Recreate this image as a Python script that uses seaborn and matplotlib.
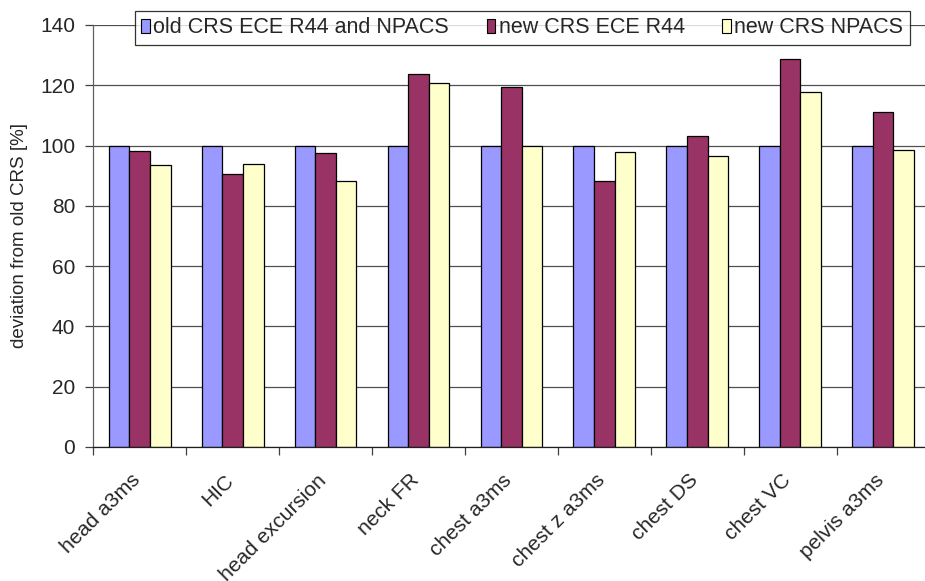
import matplotlib
matplotlib.use("Agg")
import matplotlib.pyplot as plt
import matplotlib.transforms as mtransforms
import seaborn as sns
import pandas as pd
import numpy as np
from matplotlib.ticker import FixedLocator

categories = ["head a3ms", "HIC", "head excursion", "neck FR", "chest a3ms",
              "chest z a3ms", "chest DS", "chest VC", "pelvis a3ms"]
series_names = ["old CRS ECE R44 and NPACS", "new CRS ECE R44", "new CRS NPACS"]
old_crs = [100, 100, 100, 100, 100, 100, 100, 100, 100]
new_r44 = [98.2, 90.7, 97.4, 123.7, 119.3, 88.4, 103.1, 128.6, 111.1]
new_npacs = [93.5, 93.8, 88.3, 120.9, 100.0, 98.0, 96.5, 117.9, 98.6]
y_ticks = [0, 20, 40, 60, 80, 100, 120, 140]

df = pd.DataFrame({
    "category": categories * 3,
    "series": [series_names[0]] * 9 + [series_names[1]] * 9 + [series_names[2]] * 9,
    "value": old_crs + new_r44 + new_npacs,
})

sns.set_style("white")
plt.rcParams["font.family"] = ["Liberation Sans", "DejaVu Sans"]

FS = 15
fig = plt.figure(figsize=(9.25, 5.81), dpi=100)
W, H = 925, 581
x0, x1 = 93.3, 929.5
y0, y1 = 447, 25
ax = fig.add_axes([x0 / W, (H - y0) / H, (x1 - x0) / W, (y0 - y1) / H])

palette = ["#9999FF", "#993366", "#FFFFCC"]
sns.barplot(data=df, x="category", y="value", hue="series", order=categories,
            hue_order=series_names, palette=palette, width=0.665,
            edgecolor="black", linewidth=0.9, ax=ax, saturation=1, legend=True)

ax.set_xlim(-0.5, len(categories) - 0.5)
ax.set_ylim(0, 140)
ax.set_yticks(y_ticks)
ax.set_yticklabels([str(t) for t in y_ticks], fontsize=FS)
ax.yaxis.grid(True, color="#505050", linewidth=0.9)
ax.set_axisbelow(True)

ax.set_xticks(range(len(categories)))
ax.set_xticklabels(categories, rotation=45, ha="right", va="top",
                   rotation_mode="anchor", fontsize=FS)
ax.tick_params(axis="x", which="major", length=0, pad=17)
offset = mtransforms.ScaledTranslation(-9 / 100, 0, fig.dpi_scale_trans)
for lbl in ax.get_xticklabels():
    lbl.set_transform(lbl.get_transform() + offset)
ax.xaxis.set_minor_locator(FixedLocator(np.arange(-0.5, len(categories), 1.0)))
ax.tick_params(axis="x", which="minor", length=6, width=0.9, color="#404040",
               direction="out", bottom=True)
ax.tick_params(axis="y", which="major", length=6, width=0.9, color="#404040",
               direction="out", left=True, pad=7)

for s in ["top", "right"]:
    ax.spines[s].set_visible(False)
ax.spines["left"].set_color("#606060")
ax.spines["bottom"].set_color("#202020")
ax.spines["left"].set_linewidth(0.9)
ax.spines["bottom"].set_linewidth(0.9)

ax.set_xlabel("")
ax.set_ylabel("deviation from old CRS [%]", fontsize=13.5)
ax.yaxis.set_label_coords(20 / W, 0.5 * ((H - y0) + (H - y1)) / H,
                          transform=fig.transFigure)
ax.yaxis.label.set_va("center")

leg = ax.legend(loc="upper left", bbox_to_anchor=(135 / W, 1 - 11 / H),
                bbox_transform=fig.transFigure, ncol=3, fontsize=15.5,
                frameon=True, fancybox=False, edgecolor="black",
                handlelength=0.4, handleheight=0.58, handletextpad=0.15,
                columnspacing=1.75, borderpad=0.3, borderaxespad=0)
leg.get_frame().set_linewidth(0.9)
for h in leg.legend_handles:
    h.set_edgecolor("black")
    h.set_linewidth(0.8)

fig.savefig("out.png", dpi=100)
